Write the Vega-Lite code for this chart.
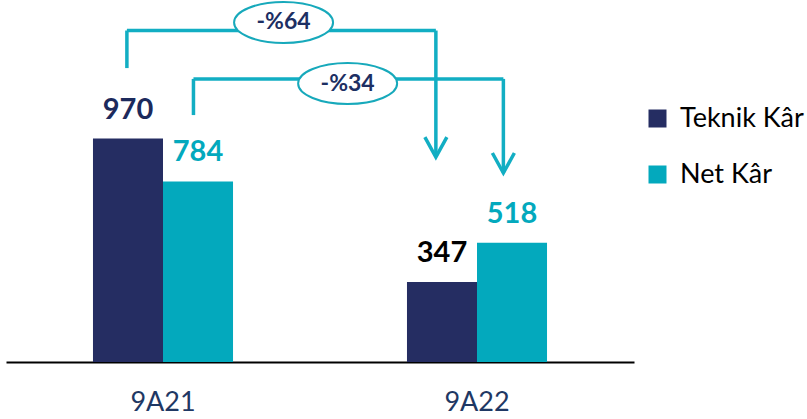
{
  "$schema": "https://vega.github.io/schema/vega-lite/v6.json",
  "width": 628,
  "height": 334,
  "autosize": {"type": "none"},
  "padding": {"left": 6, "top": 28, "right": 173, "bottom": 57},
  "background": "white",
  "config": {
    "view": {"stroke": null},
    "font": "Lato"
  },
  "datasets": {
    "profits": [
      {"period": "9A21", "series": "Teknik Kâr", "value": 970},
      {"period": "9A21", "series": "Net Kâr", "value": 784},
      {"period": "9A22", "series": "Teknik Kâr", "value": 347},
      {"period": "9A22", "series": "Net Kâr", "value": 518}
    ],
    "segments": [
      {"pos": -0.115, "pos2": -0.115, "level": 1276, "level2": 1439},
      {"pos": -0.115, "pos2": 0.869, "level": 1439, "level2": 1439},
      {"pos": 0.869, "pos2": 0.869, "level": 1439, "level2": 890},
      {"pos": 0.097, "pos2": 0.097, "level": 1072, "level2": 1229},
      {"pos": 0.097, "pos2": 1.084, "level": 1229, "level2": 1229},
      {"pos": 1.084, "pos2": 1.084, "level": 1229, "level2": 820}
    ],
    "heads": [
      {"pos": 0.869, "level": 933},
      {"pos": 1.084, "level": 864}
    ],
    "badges": [
      {"pos": 0.384, "level": 1474, "label": "-%64"},
      {"pos": 0.588, "level": 1209, "label": "-%34"}
    ]
  },
  "resolve": {"scale": {"x": "independent"}},
  "layer": [
    {
      "data": {"name": "profits"},
      "mark": {"type": "bar"},
      "encoding": {
        "x": {
          "field": "period",
          "type": "nominal",
          "sort": ["9A21", "9A22"],
          "scale": {"paddingInner": 0.554, "paddingOuter": 0.277},
          "axis": {
            "title": null,
            "labelAngle": 0,
            "ticks": false,
            "domainColor": "#000000",
            "domainWidth": 2,
            "labelFont": "Lato",
            "labelFontSize": 27,
            "labelColor": "#1f3864",
            "labelPadding": 27,
            "labelBaseline": "top"
          }
        },
        "xOffset": {
          "field": "series",
          "type": "nominal",
          "sort": ["Teknik Kâr", "Net Kâr"],
          "scale": {"paddingInner": 0, "paddingOuter": 0}
        },
        "y": {
          "field": "value",
          "type": "quantitative",
          "scale": {"domain": [0, 1450], "nice": false},
          "axis": null
        },
        "color": {
          "field": "series",
          "type": "nominal",
          "sort": ["Teknik Kâr", "Net Kâr"],
          "scale": {"domain": ["Teknik Kâr", "Net Kâr"], "range": ["#252d62", "#03a9bd"]},
          "legend": {
            "title": null,
            "orient": "none",
            "legendX": 638,
            "legendY": 77,
            "padding": 0,
            "symbolType": "square",
            "symbolSize": 324,
            "symbolStrokeWidth": 0,
            "labelFont": "Lato",
            "labelFontSize": 27,
            "labelColor": "#000000",
            "labelOffset": 9,
            "rowPadding": 28
          }
        }
      }
    },
    {
      "data": {"name": "profits"},
      "mark": {"type": "text", "font": "Lato", "fontWeight": "bold", "fontSize": 29, "baseline": "alphabetic", "align": "center", "dy": -20},
      "encoding": {
        "x": {
          "field": "period",
          "type": "nominal",
          "sort": ["9A21", "9A22"],
          "scale": {"paddingInner": 0.554, "paddingOuter": 0.277},
          "axis": null
        },
        "xOffset": {
          "field": "series",
          "type": "nominal",
          "sort": ["Teknik Kâr", "Net Kâr"],
          "scale": {"paddingInner": 0, "paddingOuter": 0}
        },
        "y": {
          "field": "value",
          "type": "quantitative",
          "scale": {"domain": [0, 1450], "nice": false},
          "axis": null
        },
        "text": {"field": "value", "type": "quantitative"},
        "color": {
          "condition": [
            {"test": "datum.period === '9A22' && datum.series === 'Teknik Kâr'", "value": "#000000"},
            {"test": "datum.series === 'Net Kâr'", "value": "#03a9bd"}
          ],
          "value": "#1c2a5c"
        }
      }
    },
    {
      "data": {"name": "segments"},
      "mark": {"type": "rule", "color": "#12aec3", "strokeWidth": 3.5},
      "encoding": {
        "x": {"field": "pos", "type": "quantitative", "scale": {"domain": [-0.5, 1.5], "nice": false, "zero": false}, "axis": null},
        "x2": {"field": "pos2"},
        "y": {"field": "level", "type": "quantitative", "scale": {"domain": [0, 1450], "nice": false}, "axis": null},
        "y2": {"field": "level2"}
      }
    },
    {
      "data": {"name": "heads"},
      "mark": {
        "type": "point",
        "shape": "M-1,-0.909L0,0.909L1,-0.909",
        "filled": false,
        "size": 484,
        "stroke": "#12aec3",
        "strokeWidth": 3.5,
        "opacity": 1
      },
      "encoding": {
        "x": {"field": "pos", "type": "quantitative", "scale": {"domain": [-0.5, 1.5], "nice": false, "zero": false}, "axis": null},
        "y": {"field": "level", "type": "quantitative", "scale": {"domain": [0, 1450], "nice": false}, "axis": null}
      }
    },
    {
      "data": {"name": "badges"},
      "mark": {
        "type": "point",
        "shape": "M-1,0C-1,-0.2287 -0.5523,-0.414 0,-0.414C0.5523,-0.414 1,-0.2287 1,0C1,0.2287 0.5523,0.414 0,0.414C-0.5523,0.414 -1,0.2287 -1,0Z",
        "filled": true,
        "fill": "#ffffff",
        "size": 9801,
        "stroke": "#17a9bb",
        "strokeWidth": 2,
        "opacity": 1
      },
      "encoding": {
        "x": {"field": "pos", "type": "quantitative", "scale": {"domain": [-0.5, 1.5], "nice": false, "zero": false}, "axis": null},
        "y": {"field": "level", "type": "quantitative", "scale": {"domain": [0, 1450], "nice": false}, "axis": null}
      }
    },
    {
      "data": {"name": "badges"},
      "mark": {"type": "text", "font": "Lato", "fontWeight": "bold", "fontSize": 23, "baseline": "middle", "align": "center", "color": "#1d2f63"},
      "encoding": {
        "x": {"field": "pos", "type": "quantitative", "scale": {"domain": [-0.5, 1.5], "nice": false, "zero": false}, "axis": null},
        "y": {"field": "level", "type": "quantitative", "scale": {"domain": [0, 1450], "nice": false}, "axis": null},
        "text": {"field": "label", "type": "nominal"}
      }
    }
  ]
}
